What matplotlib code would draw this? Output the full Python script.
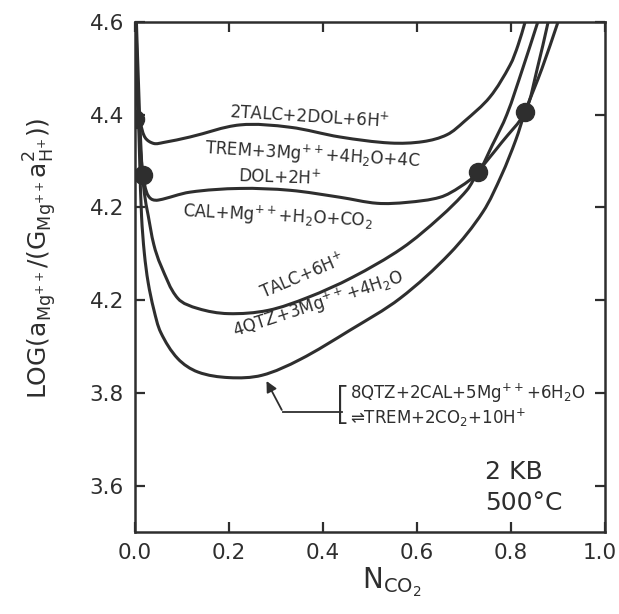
import matplotlib
matplotlib.use("Agg")
import matplotlib.pyplot as plt
import numpy as np
from matplotlib.path import Path
from matplotlib.patches import PathPatch
from matplotlib.transforms import ScaledTranslation

plt.rcParams['font.family'] = ['DejaVu Sans']
plt.rcParams['mathtext.default'] = 'regular'

# curves (N_CO2, log value)
talc_dol_x = [0.0, 0.006, 0.012, 0.022, 0.04, 0.06, 0.117, 0.223, 0.33, 0.436,
              0.543, 0.613, 0.664, 0.7, 0.755, 0.798, 0.815, 0.83]
talc_dol_y = [4.6, 4.41, 4.38, 4.35, 4.338, 4.34, 4.352, 4.378, 4.373, 4.352,
              4.339, 4.342, 4.357, 4.385, 4.438, 4.507, 4.55, 4.6]

dol_cal_x = [0.001, 0.01, 0.017, 0.025, 0.035, 0.05, 0.117, 0.223, 0.33, 0.436,
             0.515, 0.579, 0.649, 0.691, 0.73, 0.76, 0.791, 0.825, 0.857]
dol_cal_y = [4.6, 4.35, 4.27, 4.232, 4.218, 4.216, 4.233, 4.241, 4.237, 4.222,
             4.209, 4.211, 4.222, 4.244, 4.276, 4.334, 4.40, 4.5, 4.6]

talc_qtz_x = [0.003, 0.008, 0.014, 0.02, 0.028, 0.04, 0.055, 0.091, 0.134, 0.198,
              0.283, 0.368, 0.462, 0.568, 0.649, 0.706, 0.73, 0.78, 0.83, 0.856, 0.879]
talc_qtz_y = [4.6, 4.45, 4.3, 4.23, 4.183, 4.12, 4.075, 4.004, 3.982, 3.971,
              3.978, 4.006, 4.049, 4.112, 4.179, 4.237, 4.276, 4.34, 4.406, 4.5, 4.6]

qtz_cal_x = [0.002, 0.006, 0.01, 0.014, 0.02, 0.028, 0.04, 0.055, 0.091, 0.134,
             0.2, 0.27, 0.351, 0.457, 0.564, 0.67, 0.74, 0.78, 0.81, 0.83, 0.866, 0.9]
qtz_cal_y = [4.6, 4.45, 4.3, 4.18, 4.1, 4.038, 3.98, 3.93, 3.874, 3.845,
             3.833, 3.838, 3.872, 3.935, 4.004, 4.101, 4.19, 4.27, 4.345, 4.406, 4.5, 4.6]

# invariant points
inv_x = [0.0, 0.017, 0.73, 0.83]
inv_y = [4.39, 4.27, 4.276, 4.406]

xticks = [0.0, 0.2, 0.4, 0.6, 0.8, 1.0]
xtick_labels = ['0.0', '0.2', '0.4', '0.6', '0.8', '1.0']
yticks = [3.6, 3.8, 4.0, 4.2, 4.4, 4.6]
ytick_labels = ['3.6', '3.8', '4.2', '4.2', '4.4', '4.6']

W, H = 619, 614
ink = '#2e2e2e'


def P(px, py):
    # pixel position -> figure fraction
    return px / W, 1 - py / H


def smooth(xs, ys):
    # hand-drawn look: bezier segments through the read points
    p = np.column_stack([xs, ys])
    n = len(p)
    verts = [p[0]]
    codes = [Path.MOVETO]
    for i in range(n - 1):
        a, b = p[max(i - 1, 0)], p[min(i + 2, n - 1)]
        t1 = p[i + 1] - a
        t2 = b - p[i]
        L = np.linalg.norm(p[i + 1] - p[i])
        t1 = t1 / np.linalg.norm(t1) * L / 3
        t2 = t2 / np.linalg.norm(t2) * L / 3
        verts += [p[i] + t1, p[i + 1] - t2, p[i + 1]]
        codes += [Path.CURVE4] * 3
    return Path(verts, codes)


fig = plt.figure(figsize=(W / 100, H / 100), dpi=100)
ax = fig.add_axes([135 / W, 82 / H, 470 / W, 510 / H])

for xs, ys in [(talc_dol_x, talc_dol_y), (dol_cal_x, dol_cal_y),
               (talc_qtz_x, talc_qtz_y), (qtz_cal_x, qtz_cal_y)]:
    ax.add_patch(PathPatch(smooth(xs, ys), fill=False, edgecolor=ink, lw=2.2,
                           capstyle='round', joinstyle='round'))
ax.plot(inv_x, inv_y, 'o', color=ink, ms=13, ls='none')

ax.set_xlim(0, 1)
ax.set_ylim(3.5, 4.6)
ax.set_xticks(xticks)
ax.set_xticklabels(xtick_labels)
ax.set_yticks(yticks)
ax.set_yticklabels(ytick_labels)
ax.tick_params(direction='in', length=7, width=1.6, colors=ink, labelsize=15.5,
               top=True, right=True, pad=8)
for s in ax.spines.values():
    s.set_linewidth(1.8)
    s.set_color(ink)
# last x label sits at the very edge of the page
last = ax.get_xticklabels()[-1]
last.set_transform(last.get_transform() + ScaledTranslation(-4 / 72, 0, fig.dpi_scale_trans))

# reaction labels
lab = dict(color=ink, fontsize=12, ha='center', va='center')
fig.text(*P(309, 117), '2TALC+2DOL+6H$^{+}$', rotation=-3.5, **lab)
fig.text(*P(312, 155), 'TREM+3Mg$^{++}$+4H$_2$O+4C', rotation=-3.5, **lab)
fig.text(*P(280, 178), 'DOL+2H$^{+}$', rotation=-2, **lab)
fig.text(*P(278, 216), 'CAL+Mg$^{++}$+H$_2$O+CO$_2$', rotation=-3, **lab)
fig.text(*P(302, 276), 'TALC+6H$^{+}$', rotation=23, **lab)
fig.text(*P(318, 304), '4QTZ+3Mg$^{++}$+4H$_2$O', rotation=18, **lab)

# bracketed reaction with arrow to lowest curve
fig.text(*P(350, 393), '8QTZ+2CAL+5Mg$^{++}$+6H$_2$O', color=ink, fontsize=12,
         ha='left', va='center')
fig.text(*P(350, 418), '\u21ccTREM+2CO$_2$+10H$^{+}$', color=ink, fontsize=12,
         ha='left', va='center')
fig.text(*P(343, 406), '[', color=ink, fontsize=32, ha='center', va='center',
         fontweight='light')
ax.plot([0.44, 0.315], [3.758, 3.758], color=ink, lw=1.3)
ax.annotate('', xy=(0.277, 3.831), xytext=(0.315, 3.758),
            arrowprops=dict(arrowstyle='-|>', color=ink, lw=1.3, mutation_scale=16))

fig.text(*P(485, 472), '2 KB', color=ink, fontsize=18, ha='left', va='center')
fig.text(*P(485, 503), '500\u00b0C', color=ink, fontsize=18, ha='left', va='center')

fig.text(*P(392, 582), 'N$_{CO_2}$', color=ink, fontsize=20, ha='center', va='center')
fig.text(*P(40, 258), 'LOG(a$_{Mg^{++}}$/(G$_{Mg^{++}}$a$_{H^{+}}^{2}$))', color=ink,
         fontsize=18, rotation=90, ha='center', va='center')

fig.savefig('out.png', dpi=100, facecolor='white')
